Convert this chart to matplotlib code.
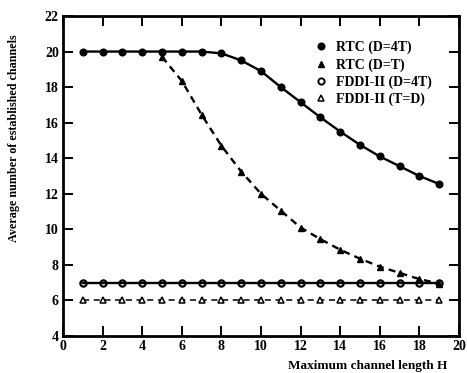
import matplotlib
matplotlib.use("Agg")
import matplotlib.pyplot as plt
from matplotlib.lines import Line2D

# data
H = list(range(1, 20))
rtc_d4t = [20.0, 20.0, 20.0, 20.0, 20.0, 20.0, 20.0, 19.9, 19.5, 18.9,
           18.0, 17.15, 16.3, 15.5, 14.75, 14.1, 13.55, 13.0, 12.55]
H_dt = list(range(5, 20))
rtc_dt = [19.7, 18.35, 16.45, 14.7, 13.25, 12.0, 11.05, 10.1, 9.45,
          8.85, 8.35, 7.9, 7.55, 7.2, 6.95]
fddi_d4t = [7.0] * 19
fddi_td = [6.0] * 19
labels = ["RTC (D=4T)", "RTC (D=T)", "FDDI-II (D=4T)", "FDDI-II (T=D)"]

xticks = list(range(0, 21, 2))
yticks = list(range(4, 23, 2))

plt.rcParams["font.family"] = ["Liberation Serif", "DejaVu Serif"]
plt.rcParams["font.weight"] = "bold"

fig = plt.figure(figsize=(4.67, 3.73), dpi=100)
ax = fig.add_axes([63 / 467, 37 / 373, 396 / 467, 320 / 373])

lw = 1.7
ax.plot(H, rtc_d4t, "-", color="black", lw=lw, marker="o", ms=4.8)
ax.plot(H_dt, rtc_dt, "--", color="black", lw=lw, marker="^", ms=5,
        dashes=(3, 2.2))
ax.plot(H, fddi_d4t, "-", color="black", lw=lw, marker="o", ms=4.5,
        mfc="none", mew=1.6)
ax.plot(H, fddi_td, "--", color="black", lw=1.1, marker="^", ms=5,
        mfc="white", mew=1.1, dashes=(4, 3))

ax.set_xlim(0, 20)
ax.set_ylim(4, 22)
ax.set_xticks(xticks)
ax.set_yticks(yticks)
ax.tick_params(direction="in", length=7, width=1.4, top=True, right=True,
               labelsize=10, pad=3)
for lab in ax.get_xticklabels() + ax.get_yticklabels():
    lab.set_fontweight("bold")
for s in ax.spines.values():
    s.set_linewidth(2.0)

mk = [Line2D([], [], ls="none", marker="o", color="black", ms=4.8),
      Line2D([], [], ls="none", marker="^", color="black", ms=5),
      Line2D([], [], ls="none", marker="o", color="black", ms=4.5, mfc="none", mew=1.4),
      Line2D([], [], ls="none", marker="^", color="black", ms=5, mfc="none", mew=1.1)]
ax.legend(mk, labels, loc="upper left", bbox_to_anchor=(0.62, 0.94),
          frameon=False, handlelength=1.0, handletextpad=0.6,
          labelspacing=0.28, borderaxespad=0,
          prop={"family": "Liberation Serif", "weight": "bold", "size": 10})

fig.text(14 / 467, 1 - 138 / 373, "Average number of established channels",
         rotation=90, ha="center", va="center", fontsize=8.7, fontweight="bold")
fig.text(447 / 467, 1 - 366 / 373, "Maximum channel length H",
         ha="right", va="center", fontsize=9.5, fontweight="bold")

fig.savefig("out.png", dpi=100)
